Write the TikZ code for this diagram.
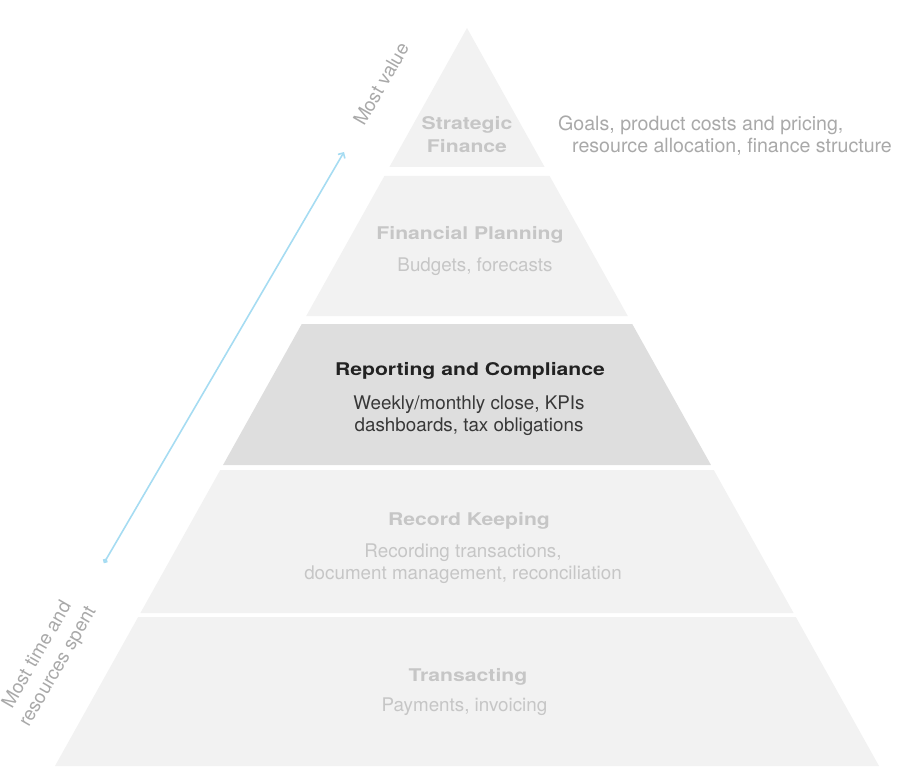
\documentclass[tikz,border=0pt]{standalone}
\usepackage{fontspec}
\setmainfont{TeX Gyre Heros}[BoldFeatures={FakeStretch=1.21}]
\usepackage{tikz}
\usetikzlibrary{arrows.meta}

\definecolor{bandlight}{HTML}{F2F2F2}
\definecolor{bandactive}{HTML}{DEDEDE}
\definecolor{fadetext}{HTML}{C6C6C6}
\definecolor{sidegray}{HTML}{A9A9A9}
\definecolor{darktext}{HTML}{222222}
\definecolor{arrowblue}{HTML}{A6DCF2}

\begin{document}
\begin{tikzpicture}[x=1pt, y=-1pt,
  title/.style={font=\fontsize{17.5}{22.5}\selectfont\bfseries, anchor=base, inner sep=0pt, align=center},
  desc/.style={font=\fontsize{18.8}{22}\selectfont, anchor=base, inner sep=0pt, align=center},
  side/.style={font=\fontsize{19}{24}\selectfont, text=sidegray, inner sep=0pt, align=center},
  valuearrow/.style={draw=arrowblue, line width=1.6pt, {Circle[length=5pt]}-{Straight Barb[length=4pt,width=8pt]}}]
  \useasboundingbox (0,0) rectangle (903,781);

  % one band of the pyramid: top y, bottom y, fill
  \def\drawLayer#1#2#3{
    \fill[#3] ({467-(#1-28)*0.5583},#1) -- ({467+(#1-28)*0.5583},#1)
      -- ({467+(#2-28)*0.5583},#2) -- ({467-(#2-28)*0.5583},#2) -- cycle;
  }

  % Bands, top to bottom
  \drawLayer{28}{167}{bandlight}
  \drawLayer{176}{316}{bandlight}
  \drawLayer{324}{465}{bandactive}
  \drawLayer{470}{613}{bandlight}
  \drawLayer{617}{766}{bandlight}

  % Strategic Finance (base = last line)
  \node[title, text=fadetext] (sf) at (467,152.3) {Strategic\\Finance};
  \node[desc, text=sidegray, anchor=base west, align=left, font=\fontsize{19.6}{22.5}\selectfont] (sfdesc) at (558,152.7)
    {Goals, product costs and pricing,\\\hspace*{14pt}resource allocation, finance structure};

  % Financial Planning
  \node[title, text=fadetext] (fp) at (470,240) {Financial Planning};
  \node[desc, text=fadetext] (fpdesc) at (475,271) {Budgets, forecasts};

  % Reporting and Compliance
  \node[title, text=darktext] (rc) at (470,375.7) {Reporting and Compliance};
  \node[desc, text=darktext!90] (rcdesc) at (469,431) {Weekly/monthly close, KPIs\\dashboards, tax obligations};

  % Record Keeping
  \node[title, text=fadetext] (rk) at (469,525) {Record Keeping};
  \node[desc, text=fadetext] (rkdesc) at (463,579) {Recording transactions,\\document management, reconciliation};

  % Transacting
  \node[title, text=fadetext] (tr) at (468,681) {Transacting};
  \node[desc, text=fadetext] (trdesc) at (464.5,711) {Payments, invoicing};

  % Value axis
  \coordinate (vstart) at (104,563);
  \coordinate (vend) at (344,152);
  \draw[valuearrow] (vstart) -- (vend);
  \node[side, rotate=60] (mostvalue) at (381,84) {Most value};
  \node[side, rotate=60] (mosttime) at (48,661) {Most time and\\resources spent};
\end{tikzpicture}
\end{document}
